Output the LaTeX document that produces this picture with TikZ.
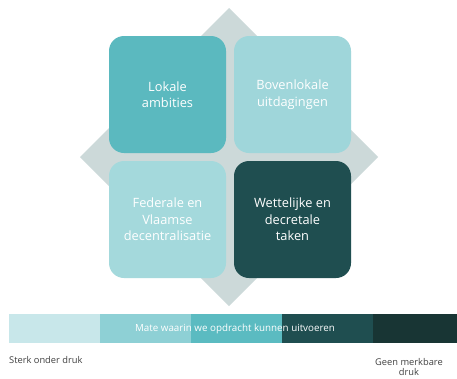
\documentclass[tikz,border=0pt]{standalone}
\usepackage{fontspec}
\setmainfont{Open Sans}
\begin{document}
\begin{tikzpicture}[x=1pt,y=-1pt,
  quad/.style={minimum width=117pt,minimum height=117pt,rounded corners=15pt,inner sep=0pt,align=center,text=white,font=\fontsize{12.8}{16.5}\selectfont},
  seg/.style={minimum height=29pt,inner sep=0pt,anchor=north west},
  lbl/.style={font=\fontsize{9.3}{10}\selectfont,text=black!75,align=center,inner sep=1pt}]
\definecolor{dia}{HTML}{CCD9D9}
\definecolor{tealA}{HTML}{5BB9BF}
\definecolor{tealB}{HTML}{9FD6DA}
\definecolor{tealC}{HTML}{A4D9DC}
\definecolor{darkA}{HTML}{1F4E50}
\definecolor{sA}{HTML}{C8E7EA}
\definecolor{sB}{HTML}{8ED0D5}
\definecolor{sC}{HTML}{5BBBC1}
\definecolor{sD}{HTML}{1F4E50}
\definecolor{sE}{HTML}{183534}
\useasboundingbox (0,0) rectangle (457,378);
\fill[white] (0,0) rectangle (457,378);
% diamond
\coordinate (dt) at (229,8);
\coordinate (dr) at (378,157);
\coordinate (db) at (229,306);
\coordinate (dl) at (80,157);
\fill[dia] (dt) -- (dr) -- (db) -- (dl) -- cycle;
% quadrants
\node[quad,fill=tealA] (q1) at (167.5,94.5) {Lokale\\ambities};
\node[quad,fill=tealB] (q2) at (292.5,94.5) {Bovenlokale\\uitdagingen};
\node[quad,fill=tealC] (q3) at (167.5,219.5) {Federale en\\Vlaamse\\decentralisatie};
\node[quad,fill=darkA] (q4) at (292.5,219.5) {Wettelijke en\\decretale\\taken};
% bar
\node[seg,fill=sA,minimum width=91pt] (b1) at (9,314) {};
\node[seg,fill=sB,minimum width=91pt] (b2) at (100,314) {};
\node[seg,fill=sC,minimum width=91pt] (b3) at (191,314) {};
\node[seg,fill=sD,minimum width=91pt] (b4) at (282,314) {};
\node[seg,fill=sE,minimum width=84pt] (b5) at (373,314) {};
\node[text=white,font=\fontsize{9.8}{10}\selectfont] (bt) at (235,328.5) {Mate waarin we opdracht kunnen uitvoeren};
\node[lbl,anchor=west] (l1) at (8,360) {Sterk onder druk};
\node[lbl] (l2) at (409,367) {Geen merkbare\\druk};
\end{tikzpicture}
\end{document}
